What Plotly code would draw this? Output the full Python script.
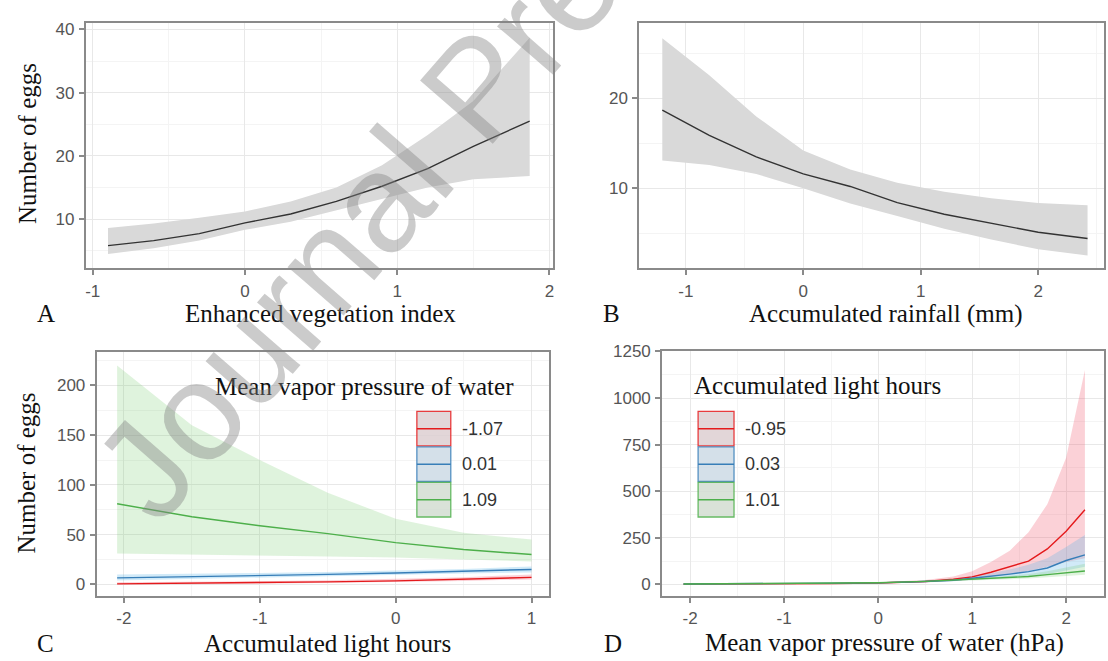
import plotly.graph_objects as go

W, H = 1108, 661

# ---------------- data ----------------
# Panel A: Enhanced vegetation index
evi_x = [-0.9, -0.6, -0.3, 0.0, 0.3, 0.6, 0.9, 1.2, 1.5, 1.87]
evi_fit = [5.8, 6.6, 7.7, 9.4, 10.8, 12.8, 15.2, 18.0, 21.5, 25.5]
evi_lo = [4.5, 5.4, 6.6, 8.3, 9.6, 11.3, 13.2, 15.0, 16.3, 16.8]
evi_hi = [8.6, 9.3, 10.2, 11.2, 12.8, 15.0, 18.5, 23.3, 28.7, 38.7]

# Panel B: Accumulated rainfall
rain_x = [-1.2, -0.8, -0.4, 0.0, 0.4, 0.8, 1.2, 1.6, 2.0, 2.42]
rain_fit = [18.7, 15.9, 13.5, 11.6, 10.2, 8.4, 7.1, 6.1, 5.1, 4.4]
rain_lo = [13.1, 12.6, 11.6, 10.0, 8.3, 6.9, 5.5, 4.3, 3.2, 2.5]
rain_hi = [26.7, 22.6, 18.0, 14.2, 12.1, 10.6, 9.6, 8.9, 8.35, 8.1]

# Panel C: Accumulated light hours, by mean vapor pressure of water
light_x = [-2.05, -1.5, -1.0, -0.5, 0.0, 0.5, 1.0]
vap_levels = ["-1.07", "0.01", "1.09"]
c_fit = [
    [0.5, 1.0, 1.6, 2.5, 3.5, 5.0, 7.0],
    [6.5, 7.5, 8.5, 10.0, 11.5, 13.0, 15.0],
    [81, 68, 59, 51, 42, 35, 30],
]
c_lo = [
    [0.0, 0.2, 0.6, 1.3, 2.3, 3.5, 5.0],
    [4.0, 5.0, 6.5, 8.0, 9.5, 11.0, 12.0],
    [31, 30, 29, 28, 27, 25, 23],
]
c_hi = [
    [2.0, 2.5, 3.2, 4.2, 5.5, 7.2, 10.0],
    [10.0, 10.5, 11.5, 12.5, 14.0, 15.5, 18.0],
    [220, 160, 125, 92, 66, 52, 45],
]

# Panel D: Mean vapor pressure of water, by accumulated light hours
vap_x = [-2.07, -1.5, -1.0, -0.5, 0.0, 0.5, 0.8, 1.0, 1.2, 1.4, 1.6, 1.8, 2.0, 2.2]
light_levels = ["-0.95", "0.03", "1.01"]
d_fit = [
    [1, 1.5, 2.5, 4, 7, 15, 27, 40, 65, 95, 125, 190, 285, 400],
    [1.5, 2.2, 3.3, 5, 8, 15, 22, 33, 42, 55, 68, 88, 128, 158],
    [2, 3, 4, 6, 9, 16, 22, 27, 31, 36, 42, 52, 62, 72],
]
d_lo = [
    [0.3, 0.6, 1.2, 2.2, 4.5, 10, 18, 25, 40, 55, 72, 95, 120, 140],
    [0.8, 1.4, 2.3, 3.8, 6.5, 12, 17, 24, 30, 38, 45, 55, 75, 94],
    [1.2, 2, 3, 4.8, 7.5, 13, 18, 21, 24, 28, 32, 38, 45, 52],
]
d_hi = [
    [3, 4, 5.5, 7.5, 11, 23, 42, 70, 120, 180, 280, 430, 680, 1150],
    [2.8, 3.5, 4.7, 6.6, 10, 19, 28, 45, 60, 80, 105, 140, 200, 265],
    [3.5, 4.5, 5.5, 7.5, 11, 20, 27, 33, 39, 46, 55, 70, 88, 110],
]

# tick values / labels
a_xticks = [-1, 0, 1, 2]
a_xlabels = ["-1", "0", "1", "2"]
a_yticks = [10, 20, 30, 40]
b_xticks = [-1, 0, 1, 2]
b_xlabels = ["-1", "0", "1", "2"]
b_yticks = [10, 20]
c_xticks = [-2, -1, 0, 1]
c_xlabels = ["-2", "-1", "0", "1"]
c_yticks = [0, 50, 100, 150, 200]
d_xticks = [-2, -1, 0, 1, 2]
d_xlabels = ["-2", "-1", "0", "1", "2"]
d_yticks = [0, 250, 500, 750, 1000, 1250]

# ---------------- style ----------------
LINE_COLORS = ["#E41A1C", "#377EB8", "#4DAF4A"]
BAND_COLORS = ["rgba(240,90,110,0.28)", "rgba(90,180,230,0.28)", "rgba(110,200,100,0.22)"]
KEY_FILLS = ["#ddd0d2", "#cddbe6", "#d3ddd2"]
GRAY_BAND = "#d9d9d9"
DARK = "#333333"
FRAME = "#8a8a8a"
SERIF = "Liberation Serif, Times New Roman, serif"
SANS = "Liberation Sans, Arial, sans-serif"


def px(x):
    return x / W


def py(y):
    return 1 - y / H


fig = go.Figure()


def band(x, lo, hi, color, xa, ya):
    fig.add_trace(go.Scatter(
        x=list(x) + list(x)[::-1], y=list(hi) + list(lo)[::-1],
        fill="toself", fillcolor=color, line=dict(width=0),
        mode="lines", hoverinfo="skip", showlegend=False, xaxis=xa, yaxis=ya))


def line(x, y, color, xa, ya, width=1.4):
    fig.add_trace(go.Scatter(
        x=x, y=y, mode="lines", line=dict(color=color, width=width),
        showlegend=False, xaxis=xa, yaxis=ya))


# Panel A
band(evi_x, evi_lo, evi_hi, GRAY_BAND, "x", "y")
line(evi_x, evi_fit, DARK, "x", "y")
# Panel B
band(rain_x, rain_lo, rain_hi, GRAY_BAND, "x2", "y2")
line(rain_x, rain_fit, DARK, "x2", "y2")
# Panel C
for i in range(3):
    band(light_x, c_lo[i], c_hi[i], BAND_COLORS[i], "x3", "y3")
for i in range(3):
    line(light_x, c_fit[i], LINE_COLORS[i], "x3", "y3")
# Panel D
for i in range(3):
    band(vap_x, d_lo[i], d_hi[i], BAND_COLORS[i], "x4", "y4")
for i in range(3):
    line(vap_x, d_fit[i], LINE_COLORS[i], "x4", "y4")


def axis_style(domain, rng, tickvals, ticktext, minor_dtick, anchor):
    return dict(
        domain=domain, range=rng, anchor=anchor,
        tickmode="array", tickvals=tickvals, ticktext=ticktext,
        showline=True, mirror=True, linecolor=FRAME, linewidth=2,
        ticks="outside", ticklen=5, tickwidth=1.5, tickcolor=FRAME,
        ticklabelstandoff=1,
        tickfont=dict(family=SANS, size=17, color="#555555"),
        showgrid=True, gridcolor="#e8e8e8", gridwidth=1,
        zeroline=False,
        minor=dict(dtick=minor_dtick, tick0=0, showgrid=True, gridcolor="#f4f4f4", gridwidth=1),
    )


def ylabels(vals):
    return [str(v) for v in vals]


layout = dict(
    width=W, height=H, margin=dict(l=0, r=0, t=0, b=0),
    paper_bgcolor="white", plot_bgcolor="white", showlegend=False,
    xaxis=axis_style([px(85), px(553)], [-1.046, 2.02], a_xticks, a_xlabels, 0.5, "y"),
    yaxis=axis_style([py(263), py(14)], [2.2, 41.05], a_yticks, ylabels(a_yticks), 5, "x"),
    xaxis2=axis_style([px(640), px(1106)], [-1.396, 2.56], b_xticks, b_xlabels, 0.5, "y2"),
    yaxis2=axis_style([py(263), py(14)], [1.07, 28.43], b_yticks, ylabels(b_yticks), 5, "x2"),
    xaxis3=axis_style([px(96), px(549)], [-2.2, 1.125], c_xticks, c_xlabels, 0.5, "y3"),
    yaxis3=axis_style([py(595), py(348)], [-11.6, 233.4], c_yticks, ylabels(c_yticks), 25, "x3"),
    xaxis4=axis_style([px(663), px(1106)], [-2.297, 2.403], d_xticks, d_xlabels, 0.5, "y4"),
    yaxis4=axis_style([py(595), py(347)], [-62, 1251], d_yticks, ylabels(d_yticks), 125, "x4"),
)
fig.update_layout(**layout)

ann = []


def text(x, y, s, size=25, family=SERIF, color="#111111", angle=0, xanchor="center"):
    ann.append(dict(x=px(x), y=py(y), xref="paper", yref="paper", text=s,
                    showarrow=False, textangle=angle, xanchor=xanchor, yanchor="middle",
                    font=dict(family=family, size=size, color=color)))


# axis titles and panel letters
text(320, 309, "Enhanced vegetation index")
text(45, 309, "A")
text(887, 309, "Accumulated rainfall (mm)")
text(612, 309, "B")
text(327, 643, "Accumulated light hours")
text(45, 643, "C")
text(886, 643, "Mean vapor pressure of water (hPa)")
text(614, 643, "D")
text(26, 136, "Number of eggs", angle=-90)
text(26, 470, "Number of eggs", angle=-90)

# legends (drawn as keys)
shapes = []


def legend(title, title_x, title_y, labels, kx0, kx1, ktops, kh, lab_x):
    text(title_x, title_y, title)
    for i, lab in enumerate(labels):
        t = ktops[i]
        shapes.append(dict(type="rect", xref="paper", yref="paper",
                           x0=px(kx0), x1=px(kx1), y0=py(t + kh), y1=py(t),
                           fillcolor=KEY_FILLS[i], line=dict(color=LINE_COLORS[i], width=1.3),
                           opacity=0.85))
        shapes.append(dict(type="line", xref="paper", yref="paper",
                           x0=px(kx0), x1=px(kx1), y0=py(t + kh / 2), y1=py(t + kh / 2),
                           line=dict(color=LINE_COLORS[i], width=1.4)))
        text(lab_x, t + kh / 2, lab, size=18, family=SANS, color="#333333", xanchor="left")


legend("Mean vapor pressure of water", 364, 383, vap_levels, 417, 451, [408, 444, 480], 35, 460)
legend("Accumulated light hours", 819, 382, light_levels, 699, 735, [408, 444, 480], 35, 744)

# watermark
ann.append(dict(x=px(478), y=py(80), xref="paper", yref="paper", text="Journal Pre-proof",
                showarrow=False, textangle=-49, xanchor="center", yanchor="middle",
                font=dict(family=SANS, size=140, color="rgba(130,130,130,0.42)")))

fig.update_layout(annotations=ann, shapes=shapes)
fig.write_html(
    "out.html",
    config={"displayModeBar": False},
    post_script=("document.body.style.margin='0';document.body.style.overflow='hidden';"
                 "var d=document.getElementById('{plot_id}');"
                 "d.style.position='fixed';d.style.left='0px';d.style.top='0px';"),
)
